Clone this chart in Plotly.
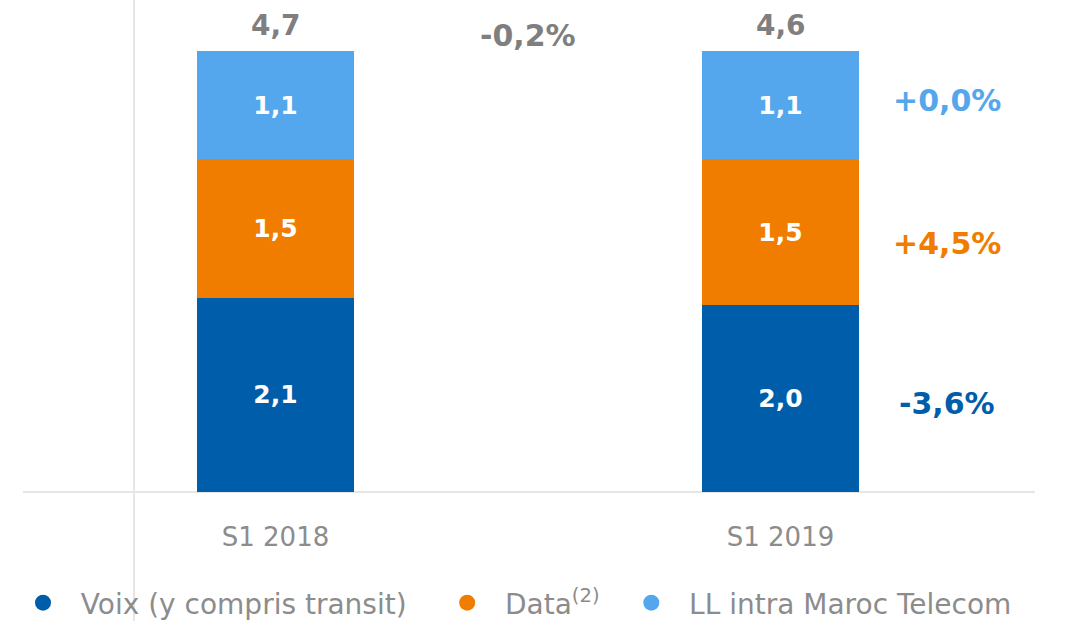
import plotly.graph_objects as go

periods = ["S1 2018", "S1 2019"]

voix = [2.07, 1.99]
data_ = [1.48, 1.56]
ll = [1.15, 1.15]

voix_labels = ["2,1", "2,0"]
data_labels = ["1,5", "1,5"]
ll_labels = ["1,1", "1,1"]
total_labels = ["4,7", "4,6"]

total_change = "-0,2%"
series_changes = ["-3,6%", "+4,5%", "+0,0%"]

BLUE = "#005DAA"
ORANGE = "#F07D00"
LIGHT = "#54A7EC"
GREY = "#7F7F7F"
LIGHT_GREY = "#8C8C8C"
FONT = "DejaVu Sans, sans-serif"

W, H = 1074, 621
M_L, M_R, M_T, M_B = 23, 41, 10, 129
PX_PER_UNIT = 93.8
y_max = (H - M_T - M_B) / PX_PER_UNIT
NB = "\u00a0"

fig = go.Figure()

series = [
    ("Voix (y compris transit)", voix, voix_labels, BLUE),
    ("Data<sup>(2)</sup>", data_, data_labels, ORANGE),
    ("LL intra Maroc Telecom", ll, ll_labels, LIGHT),
]

for name, vals, labels, color in series:
    fig.add_trace(go.Bar(
        x=periods, y=vals, text=labels, name=name,
        marker=dict(color=color, line=dict(width=0)),
        width=0.31,
        textposition="inside", insidetextanchor="middle",
        textfont=dict(family=FONT, size=25, color="white", weight="bold"),
        showlegend=False, hoverinfo="skip",
    ))

# legend entries with round markers (nbsp padding to space them like the original)
trailing = [4, 3, 0]
for (name, vals, labels, color), n in zip(series, trailing):
    fig.add_trace(go.Scatter(
        x=[None], y=[None], mode="markers", name=NB * 2 + name + NB * n,
        marker=dict(color=color, size=22, symbol="circle"),
    ))

totals = [v + d + l for v, d, l in zip(voix, data_, ll)]
for p, t, lab in zip(periods, totals, total_labels):
    fig.add_annotation(x=p, y=t, text=f"<b>{lab}</b>", showarrow=False,
                       yanchor="middle", yshift=26,
                       font=dict(family=FONT, size=28, color=GREY))

fig.add_annotation(x=0.5, y=max(totals), text=f"<b>{total_change}</b>", showarrow=False,
                   yanchor="middle", yshift=16,
                   font=dict(family=FONT, size=30, color=GREY))

mids = [voix[1] / 2, voix[1] + data_[1] / 2, voix[1] + data_[1] + ll[1] / 2]
shifts = [-5, -11, 5]
for txt, m, s, c in zip(series_changes, mids, shifts, [BLUE, ORANGE, LIGHT]):
    fig.add_annotation(x=1.33, y=m, text=f"<b>{txt}</b>", showarrow=False,
                       xanchor="center", yanchor="middle", yshift=s,
                       font=dict(family=FONT, size=30, color=c))

pw = W - M_L - M_R
ph = H - M_T - M_B
# vertical divider line and baseline
fig.add_shape(type="line", xref="paper", yref="paper",
              x0=(134 - M_L) / pw, x1=(134 - M_L) / pw,
              y0=-M_B / ph, y1=1 + M_T / ph,
              line=dict(color="#E6E6E6", width=2), layer="below")
fig.add_shape(type="line", xref="paper", yref="paper",
              x0=0, x1=(1035 - M_L) / pw, y0=0, y1=0,
              line=dict(color="#E6E6E6", width=2), layer="below")

fig.update_layout(
    width=W, height=H,
    barmode="stack",
    margin=dict(l=M_L, r=M_R, t=M_T, b=M_B, autoexpand=False),
    plot_bgcolor="white", paper_bgcolor="white",
    font=dict(family=FONT, color=LIGHT_GREY),
    xaxis=dict(range=[-0.5, 1.5], showgrid=False, zeroline=False, showline=False,
               ticks="outside", ticklen=22, tickcolor="rgba(0,0,0,0)",
               tickfont=dict(size=26, color=LIGHT_GREY)),
    yaxis=dict(range=[0, y_max], visible=False),
    legend=dict(orientation="h", traceorder="normal",
                x=0, xanchor="left", xref="paper",
                y=1 - 603 / H, yanchor="middle", yref="container",
                font=dict(size=28, color=LIGHT_GREY),
                bgcolor="rgba(0,0,0,0)"),
)

fig.write_html("out.html", config={"displayModeBar": False},
               post_script="document.body.style.margin='0';")
